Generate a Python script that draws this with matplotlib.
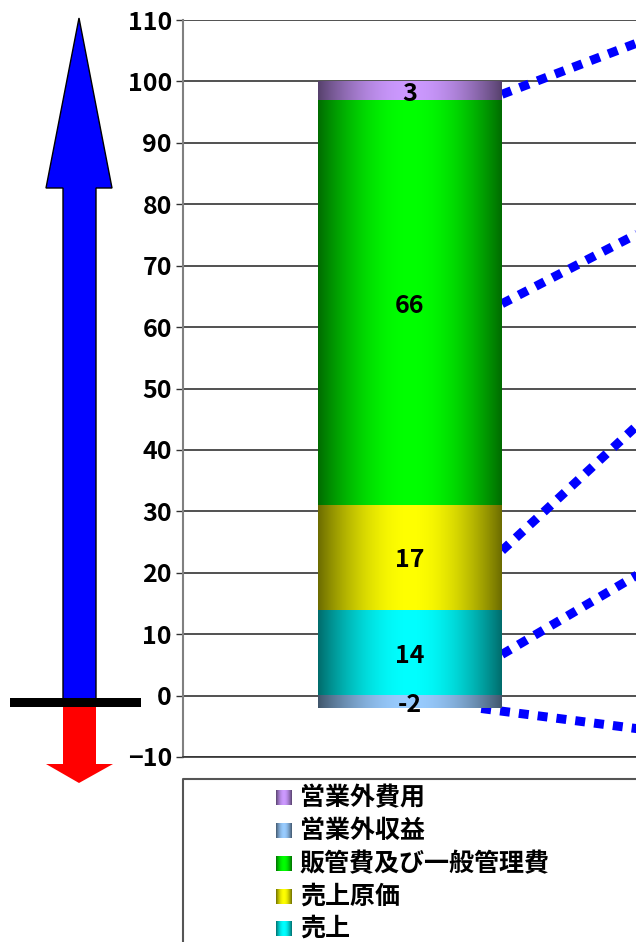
import numpy as np
import matplotlib
matplotlib.use("Agg")
import matplotlib.pyplot as plt
from matplotlib.colors import to_rgb
from matplotlib.patches import Polygon, Rectangle

plt.rcParams['font.family'] = ['Noto Sans CJK JP', 'DejaVu Sans']

# data
series = ['営業外費用', '営業外収益', '販管費及び一般管理費', '売上原価', '売上']
values = [3, -2, 66, 17, 14]
colors = ['#CC99FF', '#99CCFF', '#00FF00', '#FFFF00', '#00FFFF']
yticks = list(range(-10, 111, 10))

# connector lines (bar edge -> right), in data units
conn_x0 = [0.4, 0.4, 0.4, 0.4, 0.31]
conn_y0 = [97.9, 63.8, 23.6, 6.7, -2.1]
conn_y1 = [110.7, 81.2, 54.8, 26.5, -6.9]
conn_x1 = 1.3


def shade(color, n=200):
    t = np.linspace(0, 1, n)
    f = 0.42 + 0.58 * np.sin(np.pi * t) ** 0.9
    rgb = np.array(to_rgb(color))
    return np.clip(f[:, None] * rgb[None, :], 0, 1)[None, :, :]


W, H = 636, 942
fig = plt.figure(figsize=(W / 100, H / 100), dpi=100)
ax = fig.add_axes([183 / W, (H - 757) / H, 453 / W, 737 / H])

bw = 0.8
pos, neg = 0, 0
for name, v, c in reversed(list(zip(series, values, colors))):
    if v >= 0:
        b = pos
        pos += v
    else:
        b = neg
        neg += v
    ax.bar(0, v, bottom=b, width=bw, color=c, zorder=3)
    ax.imshow(shade(c), extent=(-bw / 2, bw / 2, min(b, b + v), max(b, b + v)),
              aspect='auto', interpolation='bilinear', zorder=3.5)
    ax.text(0, b + v / 2 - 0.5, str(v), ha='center', va='center', fontsize=18,
            fontweight='bold', color='black', zorder=5)

for x0, y0, y1 in zip(conn_x0, conn_y0, conn_y1):
    ax.plot([x0, conn_x1], [y0, y1], color='#0000FF', lw=6.5,
            linestyle=(0, (1.1, 1.0)), zorder=2, clip_on=False)

ax.set_xlim(-0.987, 0.983)
ax.set_ylim(-10, 110)
ax.set_yticks(yticks)
ax.set_xticks([])
ax.tick_params(axis='y', labelsize=18, length=5, width=1, color='#333333', pad=3)
for lab in ax.get_yticklabels():
    lab.set_fontweight('bold')
ax.grid(axis='y', color='#333333', lw=1.2, zorder=1)
ax.set_axisbelow(True)
for s in ['top', 'right']:
    ax.spines[s].set_visible(False)
ax.spines['left'].set_color('#808080')
ax.spines['left'].set_linewidth(1.5)
ax.spines['bottom'].set_color('#333333')
ax.spines['bottom'].set_linewidth(1.2)

# overlay in pixel coordinates: arrows and legend
ov = fig.add_axes([0, 0, 1, 1])
ov.set_xlim(0, W)
ov.set_ylim(H, 0)
ov.axis('off')

blue = Polygon([(79, 18), (112, 188), (96, 188), (96, 700), (63, 700),
                (63, 188), (46, 188)], closed=True, facecolor='#0000FF',
               edgecolor='black', lw=1)
ov.add_patch(blue)
red = Polygon([(63, 702), (96, 702), (96, 764), (113, 764), (79, 783),
               (46, 764), (63, 764)], closed=True, facecolor='#FF0000',
              edgecolor='none')
ov.add_patch(red)
ov.add_patch(Rectangle((10, 698), 131, 9, facecolor='black', edgecolor='none'))

# legend box
ov.plot([183, 183, 640], [950, 779, 779], color='#555555', lw=1.5)
leg_y = [798, 831, 864, 897, 929]
for name, c, y in zip(series, colors, leg_y):
    ov.imshow(shade(c), extent=(276, 292, y + 7.5, y - 7.5), aspect='auto',
              interpolation='bilinear')
    ov.text(300, y, name, ha='left', va='center', fontsize=18,
            fontweight='bold', color='black')
ov.set_xlim(0, W)
ov.set_ylim(H, 0)

fig.savefig("out.png", dpi=100)
